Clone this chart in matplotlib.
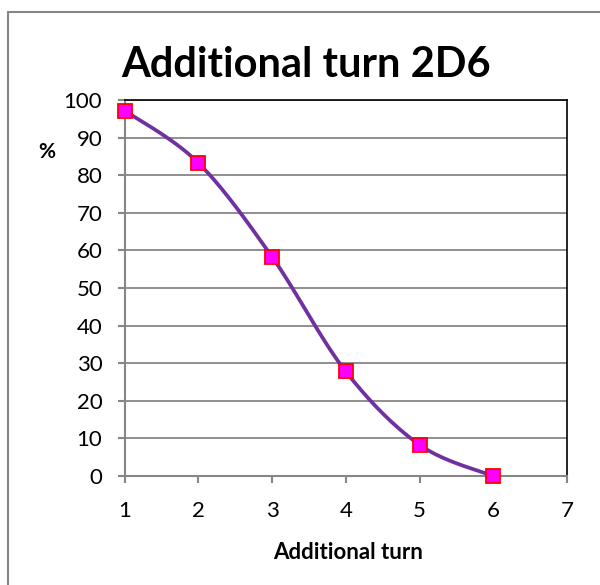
import matplotlib.pyplot as plt
import numpy as np
from matplotlib.patches import Rectangle

plt.rcParams['font.family'] = ['Lato', 'DejaVu Sans']

# Data
turns = [1, 2, 3, 4, 5, 6]
percent = [97.2, 83.3, 58.3, 27.8, 8.3, 0.0]
y_ticks = list(range(0, 101, 10))
x_ticks = [1, 2, 3, 4, 5, 6, 7]


def excel_smooth(x, y, n=30):
    # Bezier segments with Catmull-Rom style control points (like Excel's smoothed line)
    x = np.asarray(x, float)
    y = np.asarray(y, float)
    px = np.concatenate([[x[0]], x, [x[-1]]])
    py = np.concatenate([[y[0]], y, [y[-1]]])
    xs, ys = [], []
    t = np.linspace(0, 1, n)
    for i in range(len(x) - 1):
        p0 = np.array([px[i + 1], py[i + 1]])
        p3 = np.array([px[i + 2], py[i + 2]])
        p1 = p0 + (np.array([px[i + 2], py[i + 2]]) - np.array([px[i], py[i]])) / 6
        p2 = p3 - (np.array([px[i + 3], py[i + 3]]) - np.array([px[i + 1], py[i + 1]])) / 6
        b = ((1 - t) ** 3)[:, None] * p0 + (3 * (1 - t) ** 2 * t)[:, None] * p1 \
            + (3 * (1 - t) * t ** 2)[:, None] * p2 + (t ** 3)[:, None] * p3
        xs.extend(b[:, 0])
        ys.extend(b[:, 1])
    return np.array(xs), np.array(ys)


fig = plt.figure(figsize=(6.0, 5.85), dpi=100)
ax = fig.add_axes([0.2075, 0.1863, 0.7375, 0.6428])

sx, sy = excel_smooth(turns, percent)
ax.plot(sx, sy, color='#7030A0', linewidth=2.7, zorder=3, clip_on=False)
ax.plot(turns, percent, linestyle='none', marker='s', markersize=10.5,
        markerfacecolor='#FF00FF', markeredgecolor='#FF0000', markeredgewidth=1.3,
        zorder=4, clip_on=False)

ax.set_xlim(1, 7)
ax.set_ylim(0, 100)
ax.set_xticks(x_ticks)
ax.set_yticks(y_ticks)
ax.grid(axis='y', color='#868686', linewidth=1.3)
ax.set_axisbelow(True)

for side in ['left', 'bottom']:
    ax.spines[side].set_color('#868686')
    ax.spines[side].set_linewidth(1.5)
for side in ['top', 'right']:
    ax.spines[side].set_color('black')
    ax.spines[side].set_linewidth(1.2)

ax.tick_params(axis='both', direction='out', length=5, width=1.5, color='#868686',
               labelsize=16)
ax.tick_params(axis='x', pad=13)
ax.tick_params(axis='y', pad=11)

fig.text(0.51, 1 - 77 / 585, 'Additional turn 2D6', fontsize=30, fontweight='bold',
         ha='center', va='baseline')
fig.text(0.0775, 0.730, '%', fontsize=15, fontweight='bold', ha='center', va='baseline')
fig.text(0.58, 1 - 559 / 585, 'Additional turn', fontsize=16, fontweight='bold',
         ha='center', va='baseline')

fig.patches.append(Rectangle((7.5 / 600, -0.1), 1.2, 1.1 - 12 / 585,
                             transform=fig.transFigure, fill=False,
                             edgecolor='#868686', linewidth=1.5))

plt.savefig('out.png', dpi=100)
plt.close()
